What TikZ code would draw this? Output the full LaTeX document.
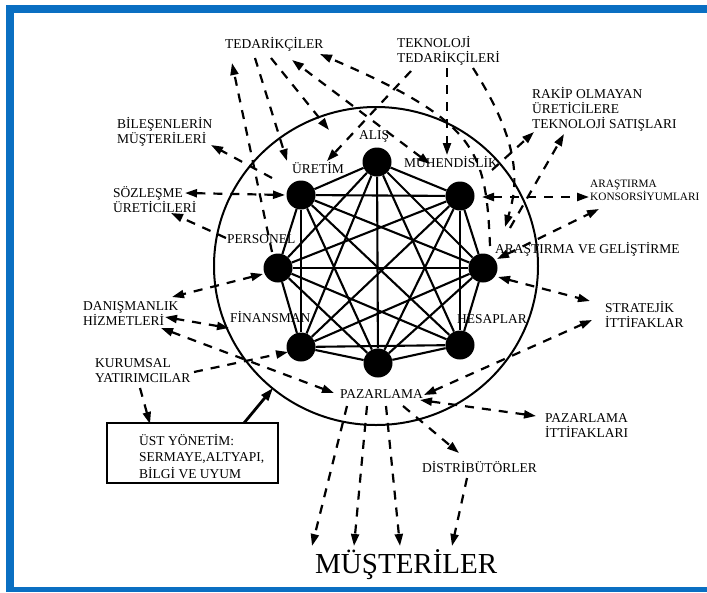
\documentclass[tikz,border=0pt]{standalone}
\usepackage{fontspec}
\setmainfont{Liberation Serif}
\usetikzlibrary{arrows.meta}
\definecolor{frameblue}{HTML}{0A6FC2}

\begin{document}
\begin{tikzpicture}[x=1pt,y=-1pt,
  dot/.style={circle,fill=black,inner sep=0pt,minimum size=29pt},
  lbl/.style={inner sep=0pt,anchor=base west,align=left,font=\fontsize{13.5}{15}\selectfont},
  small/.style={lbl,font=\fontsize{11.3}{13}\selectfont},
  link/.style={line width=2.1pt},
  flow/.style={line width=2.2pt,dash pattern=on 9pt off 8pt,-{Triangle[length=12pt,width=8pt]}},
  flow2/.style={flow,{Triangle[length=12pt,width=8pt]}-{Triangle[length=12pt,width=8pt]}},
  mainflow/.style={line width=2.8pt,-{Triangle[length=13pt,width=8.5pt]}},
]
\useasboundingbox (0,0) rectangle (707,592);

% frame
\fill[frameblue] (6,5) rectangle (707,13);
\fill[frameblue] (6,5) rectangle (14,592);
\fill[frameblue] (6,587) rectangle (707,592);

% firm boundary
\draw[line width=2pt] (376,266) ellipse [x radius=162pt, y radius=159pt];

% functions
\node[dot] (al) at (377,162) {};
\node[dot] (ur) at (301,195) {};
\node[dot] (mu) at (460,196) {};
\node[dot] (pe) at (278,268) {};
\node[dot] (ar) at (483,268) {};
\node[dot] (fi) at (301,347) {};
\node[dot] (he) at (460,345) {};
\node[dot] (pa) at (378,363) {};

% every function is linked to every other one
\foreach \a/\b in {al/ur,al/mu,al/pe,al/ar,al/fi,al/he,al/pa,
                   ur/mu,ur/pe,ur/ar,ur/fi,ur/he,ur/pa,
                   mu/pe,mu/ar,mu/fi,mu/he,mu/pa,
                   pe/ar,pe/fi,pe/he,pe/pa,
                   ar/fi,ar/he,ar/pa,
                   fi/he,fi/pa,
                   he/pa}
  \draw[link] (\a) -- (\b);

% labels of the functions
\node[lbl] (lal) at (359,139) {ALIŞ};
\node[lbl] (lur) at (292,173) {ÜRETİM};
\node[lbl] (lmu) at (404,167) {MÜHENDİSLİK};
\node[lbl] (lpe) at (227,243) {PERSONEL};
\node[lbl] (lar) at (495,253) {ARAŞTIRMA VE GELİŞTİRME};
\node[lbl] (lfi) at (230,322) {FİNANSMAN};
\node[lbl] (lhe) at (457,323) {HESAPLAR};
\node[lbl] (lpa) at (340,398) {PAZARLAMA};

% outside partners (anchored at the baseline of the last line)
\node[lbl] (ted) at (225,48) {TEDARİKÇİLER};
\node[lbl] (tek) at (397,62) {TEKNOLOJİ\\TEDARİKÇİLERİ};
\node[lbl] (rak) at (532,128) {RAKİP OLMAYAN\\ÜRETİCİLERE\\TEKNOLOJİ SATIŞLARI};
\node[lbl] (bil) at (117,143) {BİLEŞENLERİN\\MÜŞTERİLERİ};
\node[lbl] (soz) at (113,212) {SÖZLEŞME\\ÜRETİCİLERİ};
\node[small] (kon) at (590,200) {ARAŞTIRMA\\KONSORSİYUMLARI};
\node[lbl] (str) at (605,327) {STRATEJİK\\İTTİFAKLAR};
\node[lbl] (dan) at (83,325) {DANIŞMANLIK\\HİZMETLERİ};
\node[lbl] (kur) at (95,382) {KURUMSAL\\YATIRIMCILAR};
\node[lbl] (pit) at (545,437) {PAZARLAMA\\İTTİFAKLARI};
\node[lbl] (dis) at (422,472) {DİSTRİBÜTÖRLER};
\node[lbl,font=\fontsize{29}{32}\selectfont] (mus) at (315,573) {MÜŞTERİLER};

% top management box
\draw[line width=2pt] (107,423) rectangle (278,483);
\node[lbl,font=\fontsize{13.5}{16.5}\selectfont] (ust) at (139,478) {ÜST YÖNETİM:\\SERMAYE,ALTYAPI,\\BİLGİ VE UYUM};

% end points of the flows
\coordinate (t1a) at (272,252); \coordinate (t1b) at (232,63);
\coordinate (t2a) at (255,58);  \coordinate (t2b) at (287,161);
\coordinate (t3a) at (271,58);  \coordinate (t3b) at (329,130);
\coordinate (t4a) at (430,164); \coordinate (t4b) at (292,60);
\coordinate (t5a) at (490,246); \coordinate (t5b) at (320,54);
\coordinate (k1a) at (447,68);  \coordinate (k1b) at (447,155);
\coordinate (k2a) at (473,68);  \coordinate (k2b) at (505,227);
\coordinate (k3a) at (411,71);  \coordinate (k3b) at (327,161);
\coordinate (r1a) at (492,170); \coordinate (r1b) at (534,132);
\coordinate (r2a) at (510,228); \coordinate (r2b) at (564,134);
\coordinate (c1a) at (482,197); \coordinate (c1b) at (589,197);
\coordinate (c2a) at (497,259); \coordinate (c2b) at (599,209);
\coordinate (s1a) at (498,277); \coordinate (s1b) at (590,301);
\coordinate (s2a) at (424,395); \coordinate (s2b) at (592,320);
\coordinate (p1a) at (420,400); \coordinate (p1b) at (536,416);
\coordinate (m1a) at (347,406); \coordinate (m1b) at (312,546);
\coordinate (m2a) at (367,406); \coordinate (m2b) at (354,546);
\coordinate (m3a) at (386,406); \coordinate (m3b) at (400,546);
\coordinate (d1a) at (403,406); \coordinate (d1b) at (459,453);
\coordinate (d2a) at (467,478); \coordinate (d2b) at (452,546);
\coordinate (b1a) at (272,178); \coordinate (b1b) at (211,145);
\coordinate (o1a) at (185,193); \coordinate (o1b) at (285,195);
\coordinate (o2a) at (226,238); \coordinate (o2b) at (171,213);
\coordinate (n1a) at (263,274); \coordinate (n1b) at (172,297);
\coordinate (n2a) at (229,328); \coordinate (n2b) at (165,317);
\coordinate (n3a) at (161,328); \coordinate (n3b) at (334,393);
\coordinate (u1a) at (194,372); \coordinate (u1b) at (288,352);
\coordinate (u2a) at (140,388); \coordinate (u2b) at (150,424);
\coordinate (bxa) at (244,423); \coordinate (bxb) at (273,388);

% supplier flows
\draw[flow] (t1a) -- (t1b);
\draw[flow] (t2a) -- (t2b);
\draw[flow] (t3a) -- (t3b);
\draw[flow2] (t4a) -- (t4b);
\draw[flow] (t5a) .. controls (486,150) and (478,122) .. (t5b);
% technology flows
\draw[flow] (k1a) -- (k1b);
\draw[flow] (k2a) .. controls (522,145) and (518,185) .. (k2b);
\draw[flow] (k3a) -- (k3b);
\draw[flow] (r1a) -- (r1b);
\draw[flow] (r2a) -- (r2b);
\draw[flow2] (c1a) -- (c1b);
\draw[flow2] (c2a) -- (c2b);
% alliances
\draw[flow2] (s1a) -- (s1b);
\draw[flow2] (s2a) -- (s2b);
\draw[flow2] (p1a) -- (p1b);
% towards the customers
\draw[flow] (m1a) -- (m1b);
\draw[flow] (m2a) -- (m2b);
\draw[flow] (m3a) -- (m3b);
\draw[flow] (d1a) -- (d1b);
\draw[flow] (d2a) -- (d2b);
% left side partners
\draw[flow] (b1a) -- (b1b);
\draw[flow2] (o1a) -- (o1b);
\draw[flow] (o2a) -- (o2b);
\draw[flow2] (n1a) -- (n1b);
\draw[flow2] (n2a) -- (n2b);
\draw[flow2] (n3a) -- (n3b);
\draw[flow] (u1a) -- (u1b);
\draw[flow] (u2a) -- (u2b);
% top management into the firm
\draw[mainflow] (bxa) -- (bxb);
\end{tikzpicture}
\end{document}
